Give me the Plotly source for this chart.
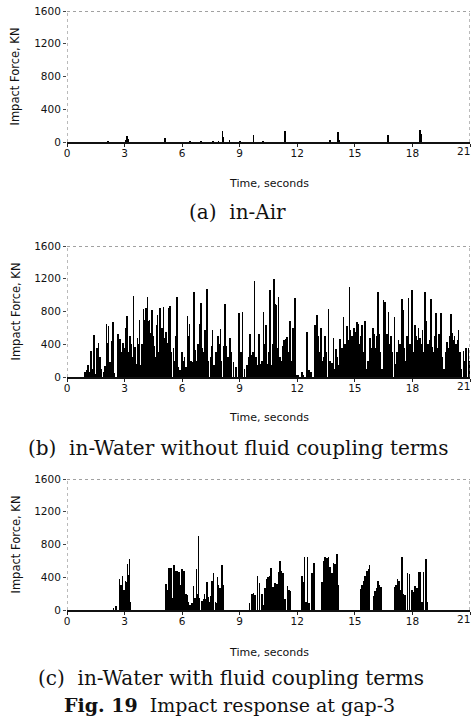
import plotly.graph_objects as go

# ---------------- data ----------------
x_ticks = [0, 3, 6, 9, 12, 15, 18, 21]
y_ticks = [0, 400, 800, 1200, 1600]

# (a) in-Air
a_time = [2.14, 3.05, 3.12, 3.18, 5.09, 5.13, 6.40, 7.00, 7.60, 7.90, 8.10, 8.14, 8.47,
          9.00, 9.72, 10.20, 11.37, 13.72, 14.11, 14.20, 16.72, 18.40, 18.43]
a_force = [10, 20, 70, 40, 50, 30, 8, 10, 10, 12, 135, 60, 30,
           10, 80, 10, 130, 20, 120, 20, 80, 150, 100]

# (b) in-Water without fluid coupling terms
b_time = [0.95, 1.02, 1.10, 1.18, 1.25, 1.33, 1.42, 1.50, 1.58, 1.65, 1.72, 1.80, 1.90, 1.97,
          2.05, 2.10, 2.17, 2.25, 2.34, 2.40, 2.48, 2.65, 2.70, 2.77, 2.85, 2.92, 3.00, 3.06,
          3.12, 3.20, 3.28, 3.35, 3.40, 3.47, 3.53, 3.60, 3.67, 3.72, 3.78, 3.85, 3.92, 3.99,
          4.04, 4.10, 4.15, 4.20, 4.25, 4.30, 4.37, 4.43, 4.48, 4.55, 4.62, 4.68, 4.72, 4.78,
          4.83, 4.89, 4.95, 5.03, 5.10, 5.17, 5.22, 5.30, 5.38, 5.45, 5.55, 5.62, 5.68, 5.73,
          5.80, 5.88, 6.00, 6.06, 6.12, 6.20, 6.28, 6.34, 6.39, 6.45, 6.55, 6.63, 6.70, 6.78,
          6.84, 6.90, 6.98, 7.05, 7.12, 7.20, 7.29, 7.36, 7.47, 7.53, 7.59, 7.66, 7.75, 7.86,
          7.93, 7.99, 8.05, 8.16, 8.25, 8.32, 8.40, 8.50, 8.58, 8.68, 8.80, 8.98, 9.05, 9.15,
          9.25, 9.38, 9.46, 9.55, 9.63, 9.70, 9.77, 9.85, 9.92, 10.00, 10.08, 10.16, 10.24,
          10.30, 10.36, 10.44, 10.52, 10.59, 10.65, 10.72, 10.80, 10.86, 10.92, 10.97, 11.02,
          11.10, 11.18, 11.25, 11.32, 11.40, 11.46, 11.55, 11.63, 11.70, 11.77, 11.83, 11.89,
          11.95, 12.05, 12.24, 12.32, 12.50, 12.62, 12.72, 12.93, 13.02, 13.08, 13.15, 13.23,
          13.30, 13.38, 13.45, 13.52, 13.63, 13.70, 13.76, 13.82, 13.89, 13.96, 14.03, 14.10,
          14.18, 14.24, 14.32, 14.41, 14.47, 14.52, 14.58, 14.65, 14.72, 14.78, 14.84, 14.90,
          14.97, 15.03, 15.10, 15.17, 15.24, 15.30, 15.36, 15.45, 15.54, 15.60, 15.68, 15.80,
          15.86, 15.93, 16.00, 16.08, 16.13, 16.20, 16.27, 16.34, 16.42, 16.49, 16.54, 16.58,
          16.66, 16.75, 16.82, 16.88, 16.95, 17.06, 17.13, 17.20, 17.27, 17.34, 17.45, 17.52,
          17.58, 17.65, 17.73, 17.80, 17.88, 17.97, 18.05, 18.14, 18.20, 18.26, 18.32, 18.40,
          18.46, 18.52, 18.60, 18.66, 18.73, 18.80, 18.90, 18.98, 19.05, 19.12, 19.18, 19.24,
          19.30, 19.37, 19.42, 19.48, 19.56, 19.65, 19.72, 19.79, 19.86, 19.94, 20.00, 20.07,
          20.14, 20.20, 20.28, 20.34, 20.40, 20.48, 20.56, 20.66, 20.74, 20.80, 20.92, 20.98]
b_force = [60, 90, 150, 60, 320, 100, 510, 40, 360, 420, 250, 100, 60, 130,
           650, 420, 620, 180, 440, 670, 50, 520, 420, 460, 300, 420, 360, 600,
           740, 300, 500, 400, 250, 990, 370, 160, 480, 400, 700, 150, 400, 830,
           700, 840, 600, 980, 680, 700, 540, 820, 500, 380, 250, 640, 760, 300,
           840, 500, 600, 860, 480, 550, 420, 840, 870, 300, 360, 200, 500, 980,
           120, 80, 300, 200, 250, 120, 740, 500, 650, 200, 180, 1040, 330, 200,
           400, 650, 900, 350, 300, 580, 1070, 200, 250, 380, 580, 150, 300, 500,
           400, 590, 200, 380, 890, 380, 250, 480, 300, 180, 120, 780, 300, 800,
           100, 150, 250, 530, 270, 300, 1170, 250, 150, 530, 160, 200, 800,
           400, 640, 160, 300, 1060, 150, 400, 1200, 890, 880, 350, 980,
           250, 200, 380, 450, 470, 490, 300, 680, 200, 600, 150, 960,
           30, 20, 60, 20, 550, 80, 60, 630, 760, 500, 300, 600,
           200, 250, 500, 300, 830, 200, 100, 170, 480, 100, 340, 250,
           150, 460, 350, 730, 400, 350, 620, 450, 1100, 580, 500, 400,
           600, 550, 670, 650, 400, 500, 640, 300, 680, 100, 200, 480,
           350, 600, 520, 350, 500, 1040, 520, 300, 100, 940, 900, 920,
           520, 800, 400, 500, 300, 730, 160, 300, 450, 400, 950, 820,
           350, 200, 500, 960, 400, 1060, 300, 640, 500, 450, 600, 480,
           400, 570, 300, 1040, 680, 400, 450, 950, 370, 300, 500, 780,
           350, 530, 200, 780, 250, 100, 300, 430, 350, 500, 770, 540,
           450, 500, 400, 450, 580, 300, 100, 320, 200, 360, 360, 200]

# (c) in-Water with fluid coupling terms
c_time = [2.43, 2.57, 2.74, 2.82, 2.90, 2.97, 3.04, 3.10, 3.16, 3.19, 3.25, 3.30,
          5.16, 5.21, 5.30, 5.38, 5.43, 5.51, 5.59, 5.68, 5.76, 5.85, 5.90, 5.99, 6.08,
          6.13, 6.20, 6.25, 6.33, 6.42, 6.51, 6.60, 6.68, 6.74, 6.81, 6.86, 6.91,
          7.03, 7.12, 7.17, 7.24, 7.29, 7.38, 7.43, 7.52, 7.57, 7.64, 7.73, 7.78, 7.85,
          7.90, 7.98, 8.02, 8.07, 8.12,
          9.51, 9.64, 9.72, 9.81, 9.93, 10.03, 10.16, 10.24, 10.33, 10.42, 10.47, 10.56,
          10.62, 10.73, 10.85, 10.94, 11.02, 11.11, 11.16, 11.25, 11.32, 11.39, 11.49,
          11.56, 11.63,
          12.24, 12.33, 12.38, 12.47, 12.53, 12.60, 12.76, 12.88,
          13.28, 13.37, 13.45, 13.54, 13.63, 13.72, 13.80, 13.89, 13.98, 14.06, 14.11,
          15.31, 15.36, 15.45, 15.54, 15.63, 15.71, 15.76, 15.97, 16.06, 16.15, 16.20,
          16.28, 16.37,
          17.10, 17.15, 17.22, 17.29, 17.36, 17.45, 17.53, 17.62, 17.74, 17.85, 17.97,
          18.05, 18.14, 18.23, 18.32, 18.40, 18.49, 18.58, 18.72, 18.76]
c_force = [30, 50, 380, 300, 410, 250, 360, 340, 560, 430, 620, 100,
           320, 250, 510, 200, 510, 150, 550, 480, 480, 460, 300, 500, 480,
           460, 200, 180, 100, 60, 90, 290, 150, 500, 200, 900, 150,
           110, 140, 200, 130, 340, 160, 100, 170, 350, 450, 100, 80, 400,
           300, 270, 200, 550, 300,
           80, 190, 210, 180, 420, 330, 190, 60, 270, 380, 400, 420,
           510, 280, 330, 320, 460, 600, 480, 450, 130, 140, 290,
           250, 230,
           410, 340, 650, 100, 650, 80, 450, 580,
           340, 600, 650, 630, 650, 520, 450, 580, 560, 680, 300,
           260, 310, 360, 410, 480, 500, 550, 170, 230, 270, 350,
           300, 280,
           280, 300, 380, 350, 250, 650, 190, 180, 450, 440, 250,
           220, 290, 270, 470, 460, 100, 470, 620, 100]

panels = [
    (a_time, a_force, "(a)  in-Air"),
    (b_time, b_force, "(b)  in-Water without fluid coupling terms"),
    (c_time, c_force, "(c)  in-Water with fluid coupling terms"),
]

# ---------------- layout geometry (pixels) ----------------
W, H = 472, 728
X0, X1 = 67, 470
tops = [11, 246, 479]
bottoms = [142, 377, 610]
title_y = [183, 418, 652]
cap_y = [212, 448, 678]
cap_x = [237, 238, 231]
bar_w = [0.04, 0.035, 0.035]

def py(p):
    return 1 - p / H

fig = go.Figure()
layout = dict(
    width=W, height=H, margin=dict(l=0, r=0, t=0, b=0),
    paper_bgcolor="white", plot_bgcolor="white", showlegend=False,
    bargap=0, annotations=[], shapes=[],
)
tick_font = dict(family="DejaVu Sans", size=10.5, color="#111")

for i, (t, f, cap) in enumerate(panels):
    n = "" if i == 0 else str(i + 1)
    xa, ya = "x" + n, "y" + n
    fig.add_trace(go.Bar(
        x=t, y=f, xaxis=xa, yaxis=ya, width=bar_w[i],
        marker=dict(color="#000", line=dict(width=0)),
    ))
    layout["xaxis" + n] = dict(
        domain=[X0 / W, X1 / W], range=[0, 21], anchor=ya,
        tickvals=x_ticks, ticks="outside", ticklen=3, tickcolor="#222",
        showline=True, linecolor="#111", linewidth=1.5, showgrid=False,
        zeroline=False, tickfont=tick_font, automargin=False, fixedrange=True,
        ticklabelstandoff=-2,
    )
    layout["yaxis" + n] = dict(
        domain=[py(bottoms[i]), py(tops[i])], range=[0, 1600], anchor=xa,
        tickvals=y_ticks, ticks="outside", ticklen=3, tickcolor="#444",
        showline=False, showgrid=False, zeroline=False, tickfont=tick_font,
        automargin=False, fixedrange=True,
    )
    # dotted frame (left, top, right)
    for (x0_, y0_, x1_, y1_, col) in [(0, 0, 0, 1600, "#777"), (0, 1600, 21, 1600, "#444"),
                                       (21, 0, 21, 1600, "#777")]:
        layout["shapes"].append(dict(type="line", xref=xa, yref=ya, x0=x0_, y0=y0_,
                                     x1=x1_, y1=y1_, line=dict(color=col, width=1, dash="dot")))
    # last x tick label, kept inside the page edge
    layout["annotations"].append(dict(
        text=str(x_ticks[-1]), xref="paper", yref="paper", x=1.0, y=py(bottoms[i] + 9),
        xanchor="right", yanchor="middle", showarrow=False, font=tick_font))
    # y title
    layout["annotations"].append(dict(
        text="Impact Force, KN", textangle=-90, xref="paper", yref="paper",
        x=15 / W, y=py((tops[i] + bottoms[i]) / 2), xanchor="center", yanchor="middle",
        showarrow=False, font=dict(family="DejaVu Sans", size=11.5, color="#111")))
    # x title
    layout["annotations"].append(dict(
        text="Time, seconds", xref="paper", yref="paper",
        x=(X0 + X1) / 2 / W, y=py(title_y[i]), xanchor="center", yanchor="middle",
        showarrow=False, font=dict(family="DejaVu Sans", size=11, color="#111")))
    # caption
    layout["annotations"].append(dict(
        text=cap, xref="paper", yref="paper",
        x=cap_x[i] / W, y=py(cap_y[i]), xanchor="center", yanchor="middle",
        showarrow=False, font=dict(family="DejaVu Serif", size=20, color="#111")))

layout["annotations"].append(dict(
    text="<b>Fig. 19</b>  Impact response at gap-3", xref="paper", yref="paper",
    x=229 / W, y=py(705), xanchor="center", yanchor="middle",
    showarrow=False, font=dict(family="DejaVu Serif", size=19, color="#111")))

fig.update_layout(**layout)
fig.write_html("out.html")
